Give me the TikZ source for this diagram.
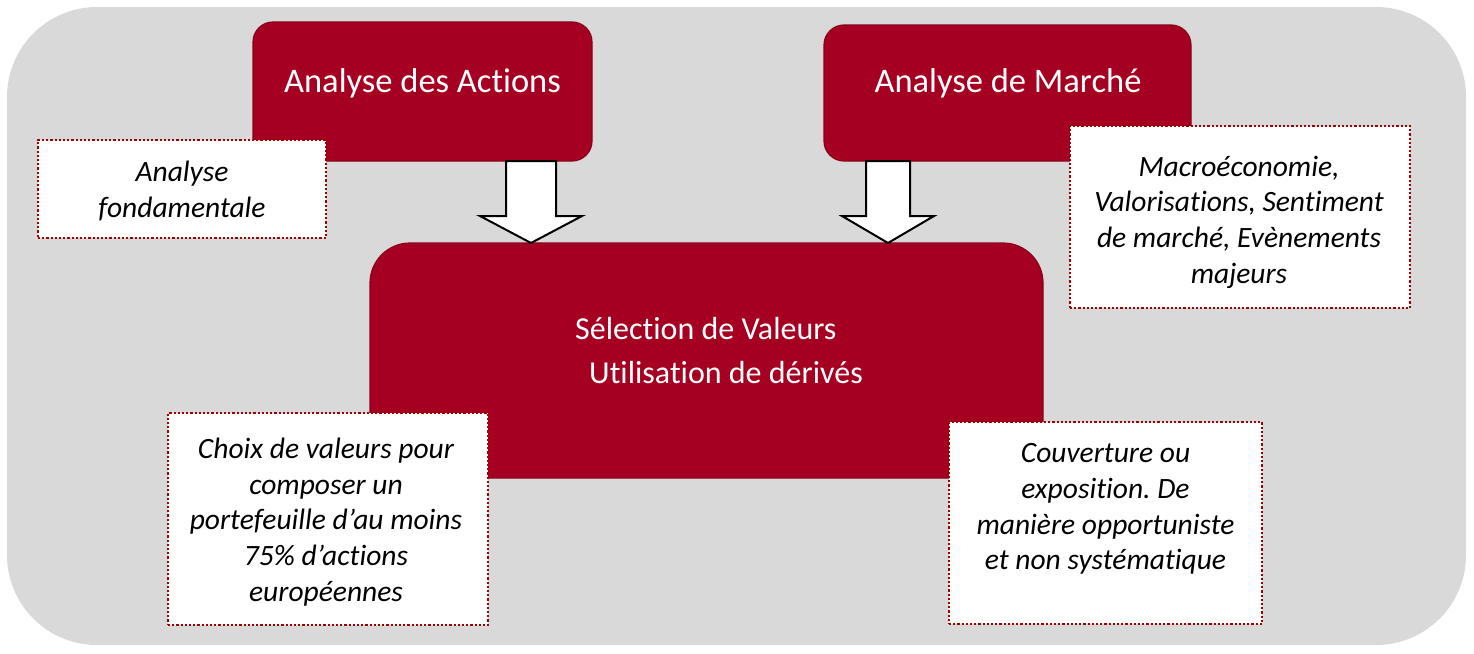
\documentclass[tikz,border=0pt]{standalone}
\usepackage{fontspec}
\setmainfont{Carlito}[Ligatures={NoCommon,NoContextual}]
\definecolor{bggray}{HTML}{D9D9D9}
\definecolor{wine}{HTML}{A50021}
\definecolor{wineedge}{HTML}{8C0019}
\definecolor{dotred}{HTML}{A00000}
\frenchspacing
\begin{document}
\begin{tikzpicture}[x=1pt,y=-1pt,
  redbox/.style={draw=wineedge, line width=1.2pt, fill=wine, rounded corners=20pt, inner sep=0pt},
  notebox/.style={draw=dotred, line width=2.2pt, dotted, fill=white, inner sep=0pt},
  headtxt/.style={text=white, font=\fontsize{34.5}{40}\selectfont, inner sep=0pt, anchor=base},
  seltxt/.style={text=white, font=\fontsize{32}{40}\selectfont, inner sep=0pt, anchor=base west},
  notetxt/.style={font=\itshape\fontsize{29.5}{35.7}\selectfont, align=center, text=black, inner sep=0pt},
  blockarrow/.style={draw=black, line width=2pt, fill=white, line join=miter}]
\useasboundingbox (0,0) rectangle (1474,653);
\fill[bggray, rounded corners=90pt] (7,7) rectangle (1466,645);
% red boxes
\node[redbox, minimum width=339pt, minimum height=139pt] (actions) at (422.5,91.5) {};
\node[redbox, minimum width=367pt, minimum height=136pt] (marche) at (1007.5,93) {};
\node[redbox, rounded corners=40pt, minimum width=673pt, minimum height=235pt] (selection) at (706.5,360.5) {};
\node[headtxt] (actionsT) at (422.5,92) {Analyse des Actions};
\node[headtxt] (marcheT) at (1008,92) {Analyse de March\'e};
\node[seltxt] (selT1) at (575,339) {S\'election de Valeurs};
\node[seltxt] (selT2) at (589,383) {Utilisation de d\'eriv\'es};
% arrows
\coordinate (a1) at (531,161);
\coordinate (a1tip) at (531,243);
\coordinate (a2) at (888,161);
\coordinate (a2tip) at (888,243);
\draw[blockarrow] ([xshift=-25pt]a1) -- ++(0,55) -- ++(-26,0) -- (a1tip) -- ++(51,-27) -- ++(-26,0) -- ++(0,-55) -- cycle;
\draw[blockarrow] ([xshift=-22pt]a2) -- ++(0,55) -- ++(-24,0) -- (a2tip) -- ++(46,-27) -- ++(-24,0) -- ++(0,-55) -- cycle;
% notes
\node[notebox, minimum width=288pt, minimum height=98pt] (fond) at (182,189) {};
\node[notebox, minimum width=340pt, minimum height=182pt] (macro) at (1240,217) {};
\node[notebox, minimum width=320pt, minimum height=212pt] (choix) at (328,519) {};
\node[notebox, minimum width=313pt, minimum height=202pt] (couv) at (1105.5,523) {};
\node[notetxt] (fondT) at (182,191) {Analyse\\fondamentale};
\node[notetxt] (macroT) at (1239,222) {Macro\'economie,\\Valorisations, Sentiment\\de march\'e, Ev\`enements\\majeurs};
\node[notetxt] (choixT) at (326,522) {Choix de valeurs pour\\composer un\\portefeuille d’au moins\\75\% d’actions\\europ\'eennes};
\node[notetxt] (couvT) at (1105.5,509) {Couverture ou\\exposition. De\\mani\`ere opportuniste\\et non syst\'ematique};
\end{tikzpicture}
\end{document}
